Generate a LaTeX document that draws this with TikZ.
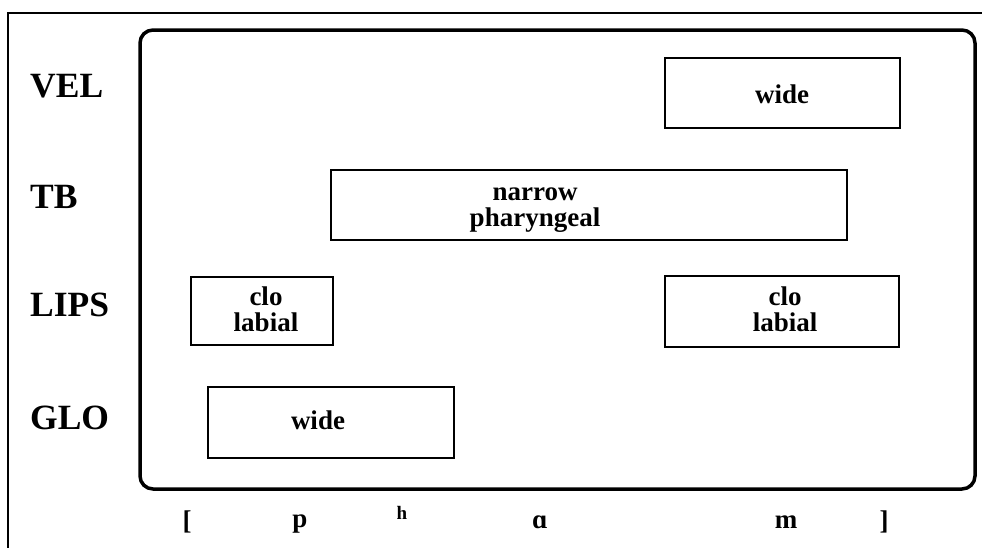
\documentclass[tikz,border=0pt]{standalone}
\usepackage{fontspec}
\setmainfont{Liberation Serif}
\begin{document}
\begin{tikzpicture}[x=1pt,y=-1pt,
  gbox/.style={draw, line width=2, inner sep=0, rectangle},
  boxtxt/.style={font=\fontsize{27}{26}\selectfont\bfseries, align=center, inner sep=0},
  rowlbl/.style={font=\fontsize{35.5}{35}\selectfont\bfseries, anchor=base west, inner sep=0},
  seglbl/.style={font=\fontsize{27}{27}\selectfont\bfseries, anchor=base, inner sep=0}]
\useasboundingbox (0,0) rectangle (982,547);
% outer frame (cropped)
\coordinate (fbl) at (8,548);
\coordinate (ftl) at (8,13);
\coordinate (ftr) at (983,13);
\draw[line width=1.3] (fbl) -- (ftl) -- (ftr);
% rounded panel
\node[draw, line width=3.5, rounded corners=13, minimum width=835, minimum height=459, inner sep=0] (panel) at (557.5,259.5) {};
% row labels
\node[rowlbl] (vel) at (30,97) {VEL};
\node[rowlbl] (tb) at (30,208) {TB};
\node[rowlbl] (lips) at (30,316) {LIPS};
\node[rowlbl] (glo) at (30,429) {GLO};
% gesture boxes
\node[gbox, minimum width=235, minimum height=70] (velbox) at (782.5,93) {};
\node[gbox, minimum width=516, minimum height=70] (tbbox) at (589,204.5) {};
\node[gbox, minimum width=142, minimum height=68] (lipsA) at (262,311) {};
\node[gbox, minimum width=234, minimum height=71] (lipsB) at (782,311) {};
\node[gbox, minimum width=246, minimum height=71] (globox) at (331,422.5) {};
% box texts
\node[boxtxt] (velt) at (782,94) {wide};
\node[boxtxt] (tbt) at (535,210) {narrow\\pharyngeal};
\node[boxtxt] (lipsAt) at (266,309) {clo\\labial};
\node[boxtxt] (lipsBt) at (785,309) {clo\\labial};
\node[boxtxt] (glot) at (318,420) {wide};
% segment string
\node[seglbl] (lb) at (187,529) {[};
\node[seglbl] (sp) at (300,527) {p};
\node[seglbl, font=\fontsize{19}{19}\selectfont\bfseries] (sh) at (402,519) {h};
\node[seglbl] (sa) at (540,528) {ɑ};
\node[seglbl] (sm) at (786,528) {m};
\node[seglbl] (rb) at (884,529) {]};
\end{tikzpicture}
\end{document}
